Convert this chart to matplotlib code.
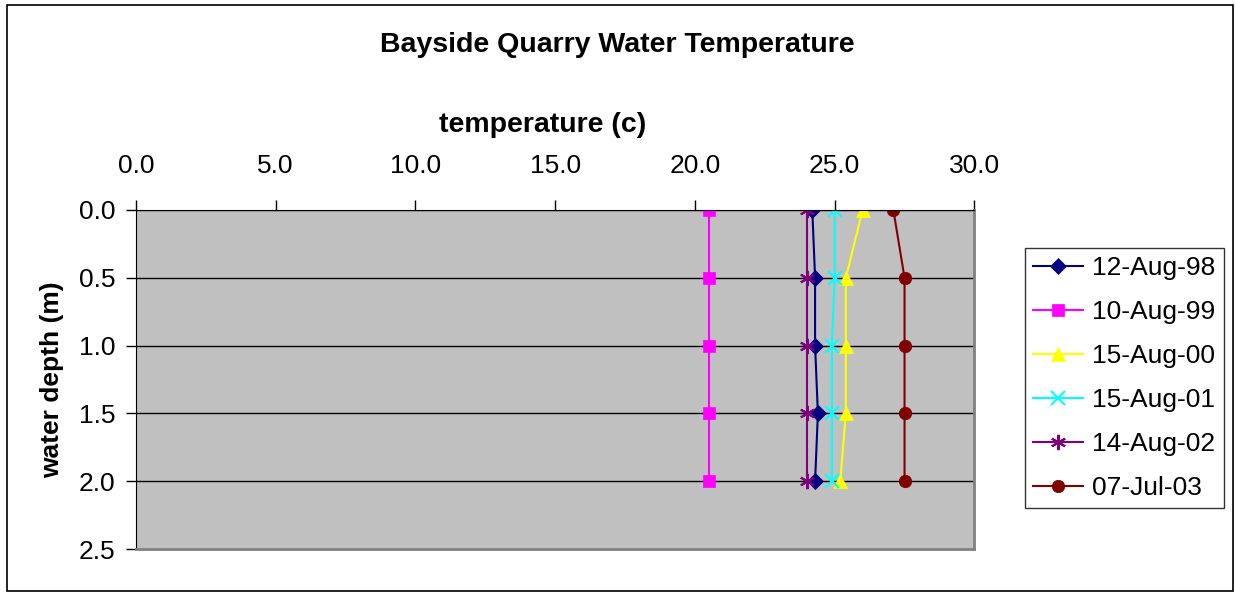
import matplotlib.pyplot as plt
from matplotlib.patches import Rectangle

plt.rcParams['font.family'] = ['Liberation Sans', 'DejaVu Sans']

depth = [0.0, 0.5, 1.0, 1.5, 2.0]
temp_98 = [24.2, 24.3, 24.3, 24.4, 24.3]
temp_99 = [20.5, 20.5, 20.5, 20.5, 20.5]
temp_00 = [26.0, 25.4, 25.4, 25.4, 25.2]
temp_01 = [25.0, 25.0, 24.9, 24.9, 24.9]
temp_02 = [24.0, 24.0, 24.0, 24.0, 24.0]
temp_03 = [27.1, 27.5, 27.5, 27.5, 27.5]
labels = ['12-Aug-98', '10-Aug-99', '15-Aug-00', '15-Aug-01', '14-Aug-02', '07-Jul-03']
x_ticks = [0, 5, 10, 15, 20, 25, 30]
y_ticks = [0.0, 0.5, 1.0, 1.5, 2.0, 2.5]

series = [
    (temp_98, '#000080', 'D', 8),
    (temp_99, '#FF00FF', 's', 8),
    (temp_00, '#FFFF00', '^', 10),
    (temp_01, '#00FFFF', 'x', 10),
    (temp_02, '#800080', (6, 2, 0), 11),
    (temp_03, '#800000', 'o', 9),
]

fig = plt.figure(figsize=(12.35, 5.92), dpi=100)
fig.patches.append(Rectangle((0.006, 0.002), 0.992, 0.99, transform=fig.transFigure,
                             fill=False, edgecolor='black', linewidth=1.2))
ax = fig.add_axes([0.110, 0.0726, 0.679, 0.5727])
ax.set_facecolor('#C0C0C0')

for vals, col, mk, ms in series:
    ax.plot(vals, depth, color=col, marker=mk, markersize=ms, linewidth=1.5,
            markeredgewidth=1.5 if mk in ('x', (6, 2, 0)) else 0.5, markeredgecolor=col)

ax.set_xlim(0, 30)
ax.set_ylim(2.5, 0)
ax.set_xticks(x_ticks)
ax.set_xticklabels([f'{v:.1f}' for v in x_ticks])
ax.set_yticks(y_ticks)
ax.set_yticklabels([f'{v:.1f}' for v in y_ticks])
ax.xaxis.tick_top()
ax.xaxis.set_label_position('top')
ax.tick_params(axis='both', labelsize=19, length=7, width=1, direction='out')
ax.tick_params(axis='x', pad=16)
ax.tick_params(axis='y', pad=8)
for v in y_ticks[:-1]:
    ax.axhline(v, color='black', linewidth=1, zorder=1)

ax.spines['top'].set_color('black')
ax.spines['left'].set_color('black')
ax.spines['right'].set_color('#808080')
ax.spines['bottom'].set_color('#808080')
ax.spines['right'].set_linewidth(2)
ax.spines['bottom'].set_linewidth(2)

ax.set_xlabel('temperature (c)', fontsize=20.5, fontweight='bold', labelpad=16)
ax.xaxis.label.set_x(0.485)
ax.set_ylabel('water depth (m)', fontsize=19, fontweight='bold', labelpad=10)
fig.text(0.5, 0.924, 'Bayside Quarry Water Temperature', fontsize=20.5,
         fontweight='bold', ha='center', va='center')

leg = fig.legend(labels, loc='upper left', bbox_to_anchor=(0.830, 0.581),
                 fontsize=19, frameon=True, fancybox=False, edgecolor='black',
                 handlelength=1.9, handletextpad=0.35, labelspacing=0.76,
                 borderpad=0.3, borderaxespad=0)
leg.get_frame().set_linewidth(1)

fig.savefig('out.png', dpi=100)
